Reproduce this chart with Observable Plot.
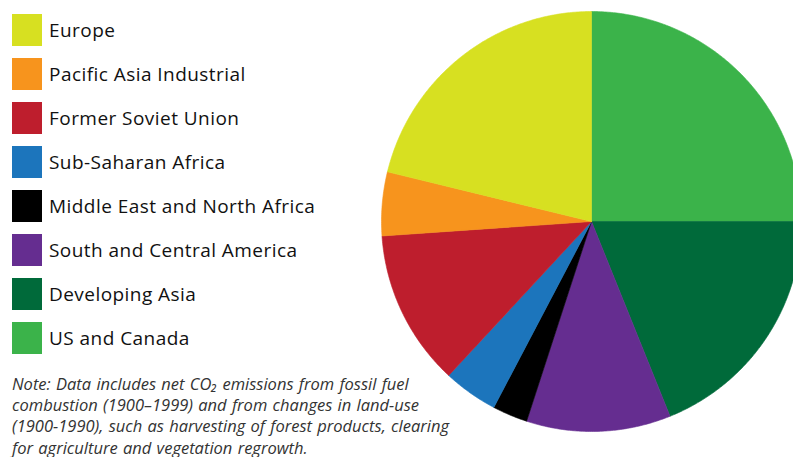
<!DOCTYPE html>
<html>
<head>
<meta charset="utf-8">
<script src="https://cdn.jsdelivr.net/npm/d3@7"></script>
<script src="https://cdn.jsdelivr.net/npm/@observablehq/plot@0.6"></script>
<style>
  html, body { margin: 0; padding: 0; background: #fff; }
  #wrap { position: relative; width: 793px; height: 457px; overflow: hidden; background: #fff; }
  #wrap svg { position: absolute; left: 0; top: 0; }
  #legend { position: absolute; left: 12px; top: 14px; font-family: "Open Sans", sans-serif; font-size: 19px; letter-spacing: 0.45px; color: #111; }
  .row { display: flex; align-items: center; height: 32px; margin-bottom: 12px; white-space: nowrap; }
  .sw { width: 30px; height: 32px; margin-right: 7px; flex: none; }
  #note { position: absolute; left: 12px; top: 373px; font-family: "Open Sans", sans-serif; font-style: italic; font-size: 16.5px; line-height: 21.2px; word-spacing: 1px; color: #333; white-space: nowrap; }
</style>
</head>
<body>
<div id="wrap"></div>
<script>
// Data (clockwise from 12 o'clock), share of cumulative CO2 emissions, %
const regions = ["US and Canada", "Developing Asia", "South and Central America", "Middle East and North Africa", "Sub-Saharan Africa", "Former Soviet Union", "Pacific Asia Industrial", "Europe"];
const shares = [25.0, 18.9, 11.1, 2.7, 4.2, 12.0, 4.9, 21.2];
const colors = ["#3bb34a", "#006a3a", "#652d90", "#000000", "#1c75bc", "#be1e2d", "#f7941d", "#d7e021"];
const legendOrder = ["Europe", "Pacific Asia Industrial", "Former Soviet Union", "Sub-Saharan Africa", "Middle East and North Africa", "South and Central America", "Developing Asia", "US and Canada"];
const noteLines = [
  "Note: Data includes net CO\u2082 emissions from fossil fuel",
  "combustion (1900\u20131999) and from changes in land-use",
  "(1900-1990), such as harvesting of forest products, clearing",
  "for agriculture and vegetation regrowth."
];

const table = regions.map((name, i) => ({name, value: shares[i]}));
const arcs = d3.pie().sort(null).value(d => d.value)(table);
const pts = [];
for (const a of arcs) {
  const name = a.data.name;
  pts.push({name, x: 0, y: 0});
  const n = Math.max(2, Math.ceil((a.endAngle - a.startAngle) / (Math.PI / 360)));
  for (let k = 0; k <= n; k++) {
    const t = a.startAngle + (a.endAngle - a.startAngle) * k / n;
    pts.push({name, x: Math.sin(t), y: Math.cos(t)});
  }
  pts.push({name, x: 0, y: 0});
}

const cx = 591, cy = 221, r = 210;
const chart = Plot.plot({
  width: 793, height: 457,
  margin: 0,
  x: {domain: [-1, 1], range: [cx - r, cx + r], axis: null},
  y: {domain: [-1, 1], range: [cy + r, cy - r], axis: null},
  color: {domain: regions, range: colors},
  marks: [
    Plot.line(pts, {x: "x", y: "y", z: "name", fill: "name", stroke: "name", strokeWidth: 0.6, curve: "linear-closed"})
  ]
});
const wrap = document.getElementById("wrap");
wrap.appendChild(chart);

const colorScale = chart.scale("color");
const col = d3.scaleOrdinal(colorScale.domain, colorScale.range);
const legend = document.createElement("div");
legend.id = "legend";
for (const name of legendOrder) {
  const row = document.createElement("div");
  row.className = "row";
  const sw = document.createElement("div");
  sw.className = "sw";
  sw.style.background = col(name);
  const lab = document.createElement("span");
  lab.textContent = name;
  row.appendChild(sw); row.appendChild(lab);
  legend.appendChild(row);
}
wrap.appendChild(legend);

const note = document.createElement("div");
note.id = "note";
for (const line of noteLines) {
  const d = document.createElement("div");
  d.textContent = line;
  note.appendChild(d);
}
wrap.appendChild(note);
</script>
</body>
</html>
